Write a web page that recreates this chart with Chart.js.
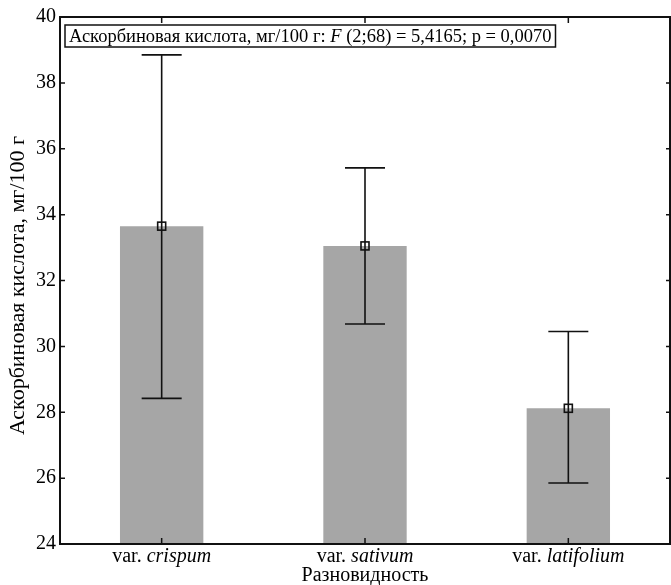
<!DOCTYPE html>
<html>
<head>
<meta charset="utf-8">
<script src="https://cdn.jsdelivr.net/npm/chart.js@4"></script>
<style>
  html, body { margin: 0; padding: 0; background: #fff; }
  #wrap { width: 671px; height: 585px; }
</style>
</head>
<body>
<div id="wrap"><canvas id="chart" width="671" height="585"></canvas></div>
<script>
// data
const varieties = ['crispum', 'sativum', 'latifolium'];
const meanValues = [33.65, 33.05, 28.12];
const upperValues = [38.85, 35.42, 30.45];
const lowerValues = [28.42, 30.68, 25.85];
const yTicks = [24, 26, 28, 30, 32, 34, 36, 38, 40];

const serif = '"Liberation Serif", "DejaVu Serif", serif';

// error bars, mean squares, frame, ticks and annotation
const decor = {
  id: 'decor',
  afterDatasetsDraw(chart) {
    const c = chart.ctx, a = chart.chartArea;
    const x = chart.scales.x, y = chart.scales.y;
    c.save();
    c.strokeStyle = '#111';

    // error bars
    c.lineWidth = 1.6;
    varieties.forEach((v, i) => {
      const px = x.getPixelForValue(i);
      const top = y.getPixelForValue(upperValues[i]);
      const bot = y.getPixelForValue(lowerValues[i]);
      c.beginPath();
      c.moveTo(px, top); c.lineTo(px, bot);
      c.moveTo(px - 20, top); c.lineTo(px + 20, top);
      c.moveTo(px - 20, bot); c.lineTo(px + 20, bot);
      c.stroke();
      const my = y.getPixelForValue(meanValues[i]);
      c.lineWidth = 1.6;
      c.strokeRect(px - 4, my - 4, 8, 8);
    });

    // frame
    c.lineWidth = 2;
    c.strokeRect(a.left, a.top, a.right - a.left, a.bottom - a.top);

    // inward ticks
    c.lineWidth = 1.5;
    c.beginPath();
    yTicks.forEach(t => {
      const py = y.getPixelForValue(t);
      c.moveTo(a.left, py); c.lineTo(a.left + 5, py);
      c.moveTo(a.right, py); c.lineTo(a.right - 4, py);
    });
    varieties.forEach((v, i) => {
      const px = x.getPixelForValue(i);
      c.moveTo(px, a.top); c.lineTo(px, a.top + 6);
      c.moveTo(px, a.bottom); c.lineTo(px, a.bottom - 6);
    });
    c.stroke();

    // y tick labels
    c.fillStyle = '#000';
    c.font = '20px ' + serif;
    c.textAlign = 'right';
    c.textBaseline = 'middle';
    yTicks.forEach(t => c.fillText(String(t), a.left - 4, y.getPixelForValue(t)));

    // x tick labels: "var. " + italic name
    c.textBaseline = 'alphabetic';
    c.textAlign = 'left';
    varieties.forEach((v, i) => {
      const px = x.getPixelForValue(i);
      c.font = '20px ' + serif;
      const w1 = c.measureText('var. ').width;
      c.font = 'italic 20px ' + serif;
      const w2 = c.measureText(v).width;
      const x0 = px - (w1 + w2) / 2;
      c.font = '20px ' + serif;
      c.fillText('var. ', x0, a.bottom + 18);
      c.font = 'italic 20px ' + serif;
      c.fillText(v, x0 + w1, a.bottom + 18);
    });

    // axis titles
    c.font = '20px ' + serif;
    c.textAlign = 'center';
    c.fillText('Разновидность', (a.left + a.right) / 2, a.bottom + 37);
    c.save();
    c.translate(18, (a.top + a.bottom) / 2 + 5);
    c.rotate(-Math.PI / 2);
    c.textBaseline = 'middle';
    c.font = '22px ' + serif;
    c.fillText('Аскорбиновая кислота, мг/100 г', 0, 0);
    c.restore();

    // annotation box
    const parts = [
      ['Аскорбиновая кислота, мг/100 г: ', ''],
      ['F', 'italic '],
      [' (2;68) = 5,4165; p = 0,0070', '']
    ];
    let tw = 0;
    parts.forEach(p => { c.font = p[1] + '18.5px ' + serif; tw += c.measureText(p[0]).width; });
    const bx = a.left + 5, by = a.top + 8, bh = 22;
    c.fillStyle = '#fff';
    c.fillRect(bx, by, tw + 8, bh);
    c.lineWidth = 1.5;
    c.strokeRect(bx, by, tw + 8, bh);
    c.fillStyle = '#000';
    c.textAlign = 'left';
    c.textBaseline = 'middle';
    let tx = bx + 4;
    parts.forEach(p => {
      c.font = p[1] + '18.5px ' + serif;
      c.fillText(p[0], tx, by + bh / 2 + 1);
      tx += c.measureText(p[0]).width;
    });
    c.restore();
  }
};

new Chart(document.getElementById('chart'), {
  type: 'bar',
  data: {
    labels: varieties.map(v => 'var. ' + v),
    datasets: [{
      data: meanValues,
      backgroundColor: '#a6a6a6',
      borderWidth: 0,
      barPercentage: 0.41,
      categoryPercentage: 1.0
    }]
  },
  options: {
    responsive: false,
    animation: false,
    devicePixelRatio: 1,
    layout: { padding: { left: 60, right: 1, top: 17, bottom: 41 } },
    plugins: { legend: { display: false }, tooltip: { enabled: false } },
    scales: {
      x: { display: false },
      y: { display: false, min: 24, max: 40 }
    }
  },
  plugins: [decor]
});
</script>
</body>
</html>
